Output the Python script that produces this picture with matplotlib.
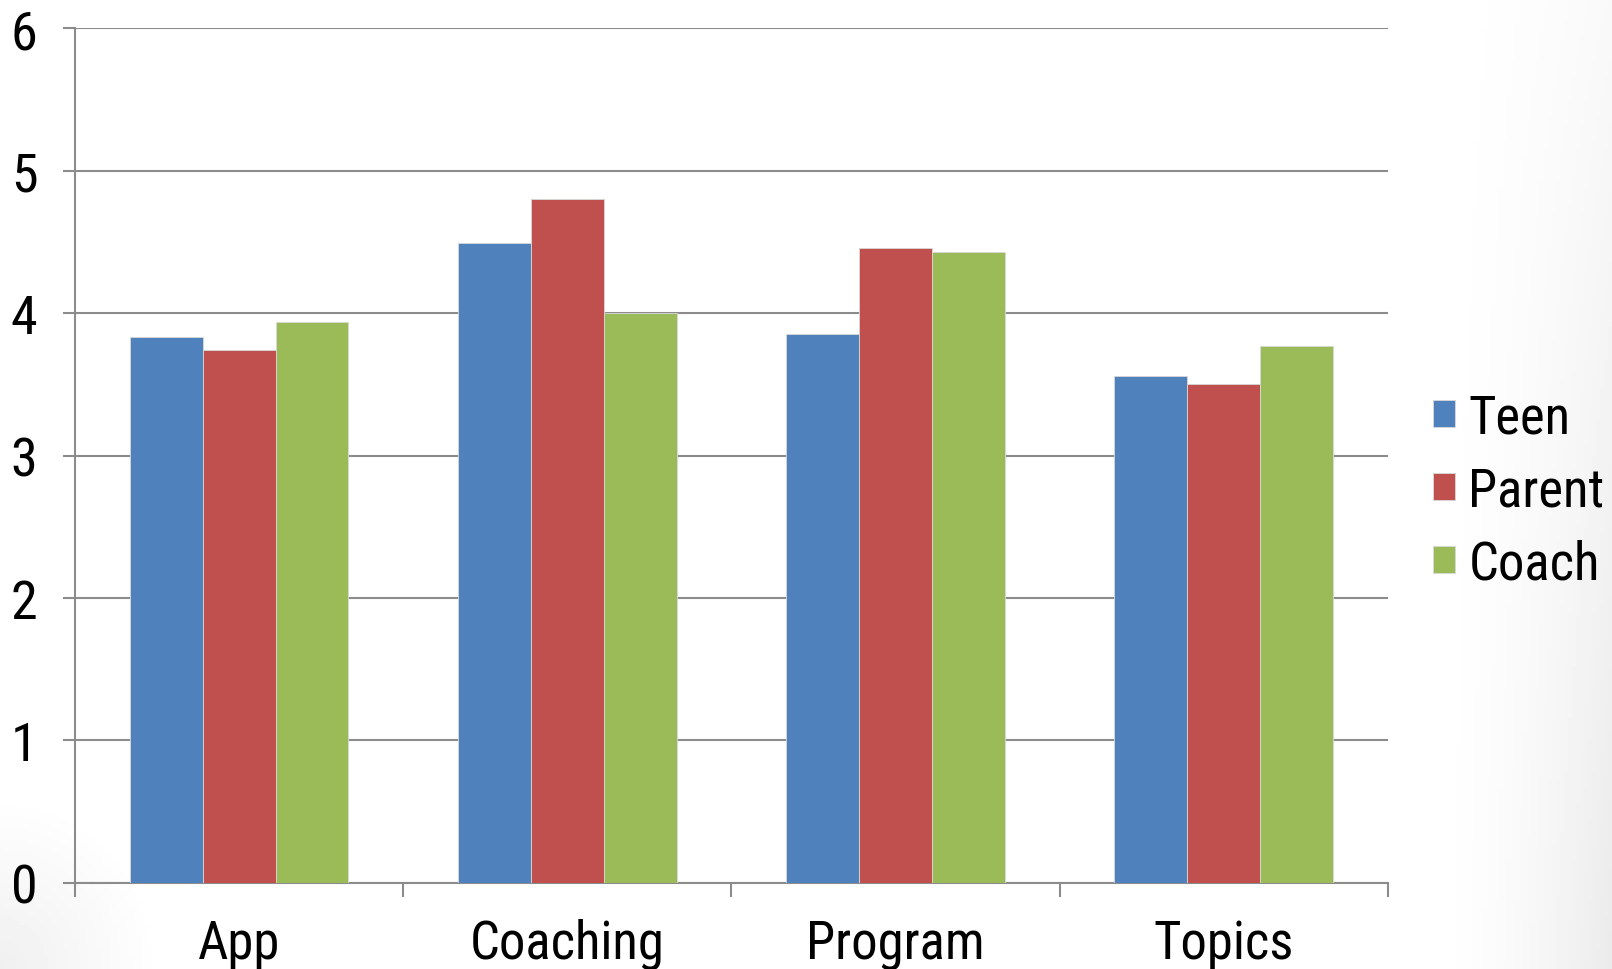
import numpy as np
import matplotlib.pyplot as plt
from matplotlib import font_manager
from matplotlib.patches import Patch

categories = ['App', 'Coaching', 'Program', 'Topics']
series = ['Teen', 'Parent', 'Coach']
teen = [3.83, 4.49, 3.85, 3.56]
parent = [3.74, 4.80, 4.46, 3.50]
coach = [3.94, 4.00, 4.43, 3.77]
colors = ['#4F81BD', '#C0504D', '#9BBB59']
yticks = [0, 1, 2, 3, 4, 5, 6]

# the reference uses a narrow Arial-like face; take a condensed family if one is installed
installed = {f.name for f in font_manager.fontManager.ttflist}
if 'Liberation Sans Narrow' in installed:
    face, xsize, ysize, lsize = 'Liberation Sans Narrow', 40, 38, 40
elif 'Roboto Condensed' in installed:
    face, xsize, ysize, lsize = 'Roboto Condensed', 38, 39, 38
else:
    face, xsize, ysize, lsize = 'Liberation Sans', 33, 34, 33
plt.rcParams['font.family'] = [face, 'DejaVu Sans']

fig = plt.figure(figsize=(16.12, 9.70), dpi=100)

# slide background: white with a faint grey fade toward the right/bottom-right and bottom-left corner
bg = fig.add_axes([0, 0, 1, 1], zorder=-10)
xx, yy = np.meshgrid(np.linspace(0, 1, 400), np.linspace(0, 1, 240))
right = 0.08 * np.clip((xx - 0.88) / 0.12, 0, 1) ** 1.8 * (0.3 + 0.7 * np.clip(1 - yy, 0, 1))
corner = 0.06 * np.clip(1 - np.hypot(xx / 0.1, yy / 0.18), 0, 1)
img = 1 - np.maximum(right, corner)
bg.imshow(img, cmap='gray', vmin=0, vmax=1, extent=[0, 1, 0, 1], aspect='auto', origin='lower')
bg.axis('off')

ax = fig.add_axes([0.0465, 0.0887, 0.8145, 0.8813])
ax.patch.set_alpha(0)

x = np.arange(len(categories))
width = 1 / 4.5
for i, (vals, name) in enumerate(zip([teen, parent, coach], series)):
    ax.bar(x + (i - 1) * width, vals, width=width, color=colors[i],
           edgecolor='#d9d9d9', linewidth=0.6, label=name, zorder=3)

ax.set_xlim(-0.5, len(categories) - 0.5)
ax.set_ylim(0, 6)
ax.set_yticks(yticks)
ax.set_yticklabels([str(t) for t in yticks])
ax.yaxis.grid(True, color='#8c8c8c', linewidth=1.5, zorder=0)
ax.set_axisbelow(True)

# category labels at centers, tick marks at group boundaries
ax.set_xticks(x)
ax.set_xticklabels(categories)
ax.tick_params(axis='x', which='major', length=0, pad=25, labelsize=xsize)
ax.set_xticks(np.arange(len(categories) + 1) - 0.5, minor=True)
ax.tick_params(axis='x', which='minor', length=10, width=1.5, color='#8c8c8c')
ax.tick_params(axis='y', length=9, width=1.5, color='#8c8c8c', pad=18, labelsize=ysize)

for s in ['top', 'right']:
    ax.spines[s].set_visible(False)
for s in ['left', 'bottom']:
    ax.spines[s].set_color('#8c8c8c')
    ax.spines[s].set_linewidth(1.5)

handles = [Patch(facecolor=c, edgecolor='#d9d9d9', linewidth=0.6) for c in colors]
fig.legend(handles, series, loc='center left', bbox_to_anchor=(0.889, 0.493),
           frameon=False, fontsize=lsize, handlelength=0.42, handleheight=0.42,
           handletextpad=0.25, labelspacing=0.42, borderpad=0, borderaxespad=0)

fig.savefig('out.png', dpi=100)
